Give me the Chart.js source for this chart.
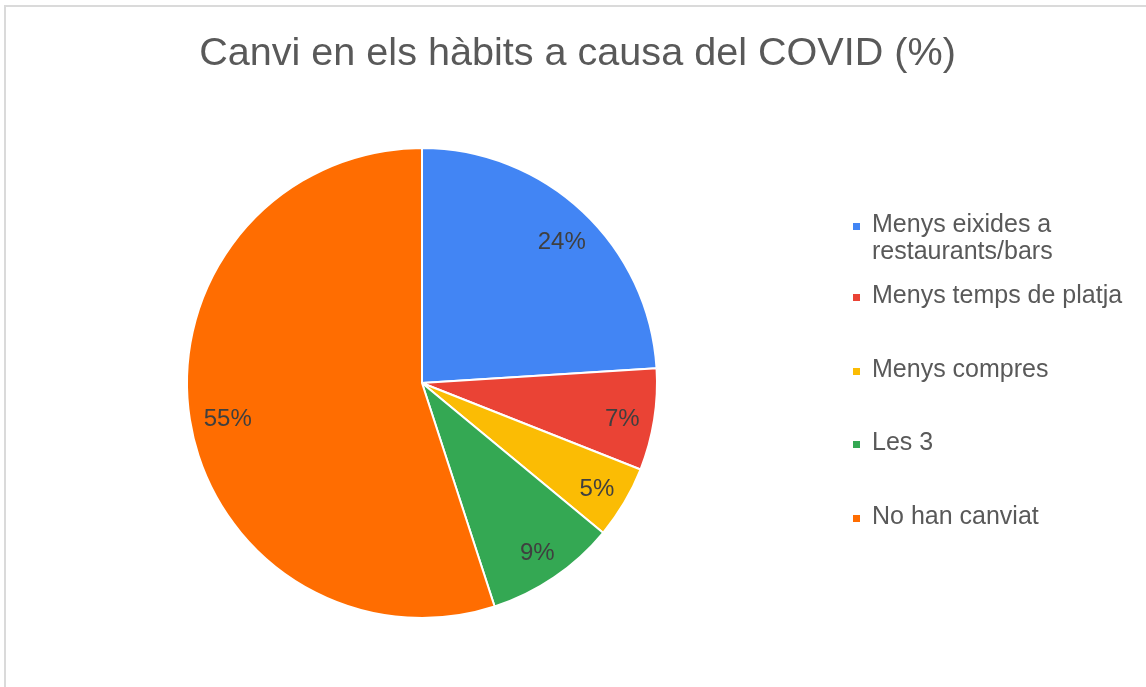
<!DOCTYPE html>
<html>
<head>
<meta charset="utf-8">
<script src="https://cdn.jsdelivr.net/npm/chart.js@4"></script>
<style>
  html, body { margin:0; padding:0; background:#ffffff; overflow:hidden; width:1146px; height:687px; }
  #frame { position:absolute; left:4px; top:5px; width:1200px; height:760px; border:2px solid #dadada; box-sizing:border-box; }
  #c { position:absolute; left:0; top:0; }
  #title { position:absolute; left:0; top:31px; width:1155px; text-align:center; font-family:"Liberation Sans", Arial, sans-serif; font-size:39.6px; line-height:40px; color:#595959; white-space:nowrap; }
  #legend { position:absolute; left:853px; top:210px; font-family:"Liberation Sans", Arial, sans-serif; font-size:25px; line-height:27px; color:#595959; }
  .item { position:relative; padding-left:19px; width:265px; margin-bottom:46.5px; }
  .item:first-child { margin-bottom:17px; }
  .sw { position:absolute; left:0; top:13px; width:7px; height:7px; }
</style>
</head>
<body>
<div id="frame"></div>
<canvas id="c" width="1146" height="687"></canvas>
<div id="title"></div>
<div id="legend"></div>
<script>
const titleText = "Canvi en els hàbits a causa del COVID (%)";
const categories = ["Menys eixides a restaurants/bars", "Menys temps de platja", "Menys compres", "Les 3", "No han canviat"];
const values = [24, 7, 5, 9, 55];
const colors = ["#4285F4", "#EA4335", "#FBBC04", "#34A853", "#FF6D01"];

document.getElementById('title').textContent = titleText;
const legend = document.getElementById('legend');
categories.forEach((cat, i) => {
  const item = document.createElement('div');
  item.className = 'item';
  const sw = document.createElement('span');
  sw.className = 'sw';
  sw.style.background = colors[i];
  item.appendChild(sw);
  item.appendChild(document.createTextNode(cat));
  legend.appendChild(item);
});

const labelPlugin = {
  id: 'sliceLabels',
  afterDatasetsDraw(chart) {
    const ctx = chart.ctx;
    const meta = chart.getDatasetMeta(0);
    const data = chart.data.datasets[0].data;
    const total = data.reduce((a, b) => a + b, 0);
    ctx.save();
    ctx.font = '24px "Liberation Sans", Arial, sans-serif';
    ctx.fillStyle = '#3f3f3f';
    ctx.textAlign = 'center';
    ctx.textBaseline = 'middle';
    meta.data.forEach((arc, i) => {
      const p = arc.getProps(['x', 'y', 'startAngle', 'endAngle', 'outerRadius'], true);
      const mid = (p.startAngle + p.endAngle) / 2;
      const r = p.outerRadius * 0.85;
      ctx.fillText(Math.round(data[i] / total * 100) + '%', p.x + Math.cos(mid) * r + 3, p.y + Math.sin(mid) * r + 5);
    });
    ctx.restore();
  }
};

new Chart(document.getElementById('c'), {
  type: 'pie',
  data: {
    labels: categories,
    datasets: [{
      data: values,
      backgroundColor: colors,
      borderColor: '#ffffff',
      borderWidth: 2
    }]
  },
  options: {
    responsive: false,
    animation: false,
    layout: { padding: { left: 186, right: 488, top: 147, bottom: 68 } },
    plugins: {
      legend: { display: false },
      tooltip: { enabled: false },
      title: { display: false }
    }
  },
  plugins: [labelPlugin]
});
</script>
</body>
</html>
